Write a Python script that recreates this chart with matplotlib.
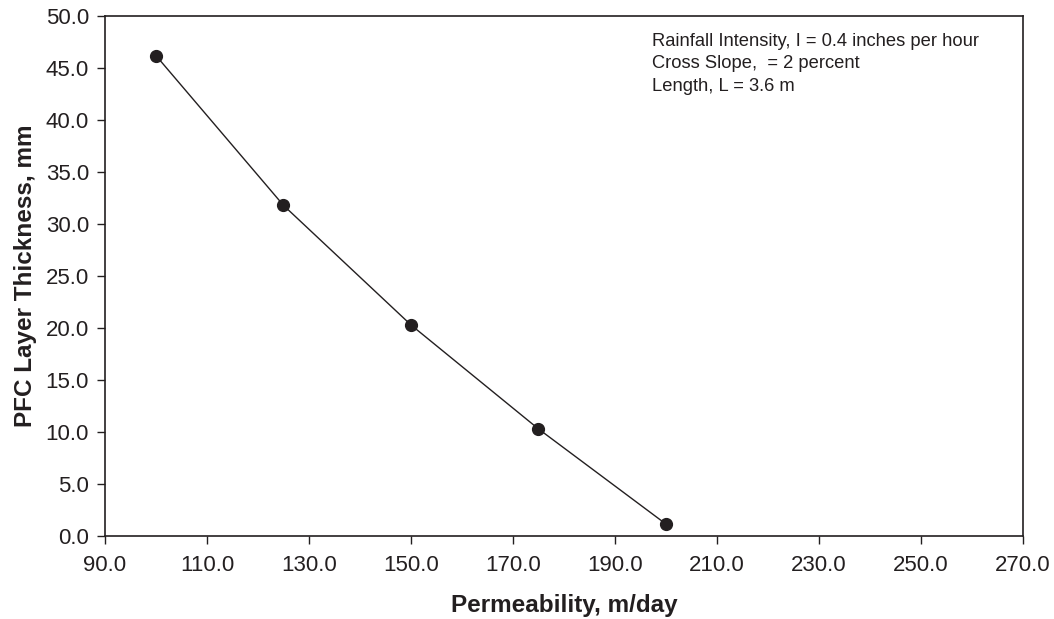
import matplotlib
matplotlib.use("Agg")
import matplotlib.pyplot as plt
from matplotlib.ticker import FormatStrFormatter

permeability = [100, 125, 150, 175, 200]
thickness = [46.2, 31.8, 20.3, 10.3, 1.15]
x_ticks = [90, 110, 130, 150, 170, 190, 210, 230, 250, 270]
y_ticks = [0, 5, 10, 15, 20, 25, 30, 35, 40, 45, 50]

ink = "#231f20"
plt.rcParams['font.family'] = ['Liberation Sans', 'DejaVu Sans']

fig = plt.figure(figsize=(10.54, 6.19), dpi=100)
ax = fig.add_axes([0.0996, 0.134, 0.8710, 0.840])

ax.plot(permeability, thickness, color=ink, linewidth=1.0, marker='o',
        markersize=8.5, markerfacecolor=ink, markeredgecolor=ink)

ax.set_xlim(90, 270)
ax.set_ylim(0, 50)
ax.set_xticks(x_ticks)
ax.set_yticks(y_ticks)
ax.xaxis.set_major_formatter(FormatStrFormatter('%.1f'))
ax.yaxis.set_major_formatter(FormatStrFormatter('%.1f'))
ax.tick_params(direction='out', length=5.5, width=1.0, color=ink, labelcolor=ink,
               labelsize=16)
ax.tick_params(axis='x', pad=8)
ax.tick_params(axis='y', pad=6)
for s in ax.spines.values():
    s.set_color(ink)
    s.set_linewidth(1.2)

ax.set_xlabel('Permeability, m/day', fontsize=17.5, fontweight='bold', color=ink)
ax.set_ylabel('PFC Layer Thickness, mm', fontsize=17.5, fontweight='bold', color=ink)
ax.xaxis.set_label_coords(0.5, -0.112)
ax.yaxis.set_label_coords(-0.0736, 0.5)

ax.text(0.5958, 0.967, 'Rainfall Intensity, I = 0.4 inches per hour\nCross Slope,  = 2 percent\nLength, L = 3.6 m',
        transform=ax.transAxes, fontsize=13.2, color=ink, va='top', ha='left',
        linespacing=1.4)

fig.savefig('out.png', dpi=100)
